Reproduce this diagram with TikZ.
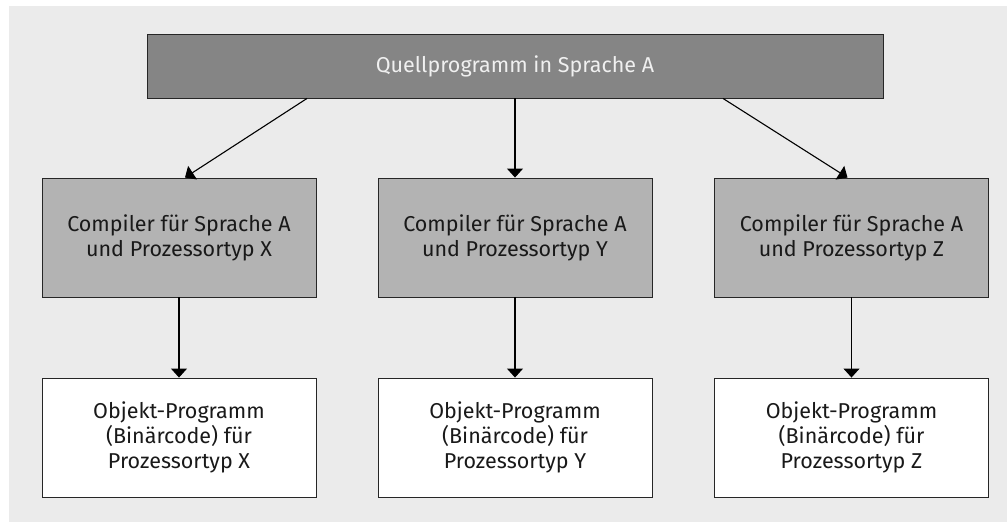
\documentclass[tikz,border=0pt]{standalone}
\usepackage{fontspec}
\setmainfont{Fira Sans}
\usetikzlibrary{arrows.meta,calc}
\definecolor{panel}{HTML}{EBEBEB}
\definecolor{darkfill}{HTML}{858585}
\definecolor{midfill}{HTML}{B3B3B3}
\definecolor{edge}{HTML}{262626}
\tikzset{
  box/.style={draw=edge, line width=0.9pt, minimum width=274pt, minimum height=119pt,
    align=center, inner sep=0pt, font=\fontsize{21.5}{25}\selectfont, text=black!90},
  compbox/.style={box, fill=midfill},
  objbox/.style={box, fill=white},
  srcbox/.style={draw=edge, line width=0.9pt, fill=darkfill, minimum width=736pt,
    minimum height=64pt, inner sep=0pt, font=\fontsize{21.5}{25}\selectfont, text=white!94!black},
  link/.style={draw=black, line width=1.1pt, -{Triangle[width=16pt,length=9pt]}}
}
\begin{document}
\begin{tikzpicture}[x=1pt,y=-1pt]
  \useasboundingbox (0,0) rectangle (1007,522);
  \fill[panel] (9,6) rectangle (1007,522);

  % source program
  \node[srcbox] (src) at (515,66) {Quellprogramm in Sprache A};

  % compilers
  \node[compbox] (cx) at (179,237.5) {Compiler für Sprache A\\und Prozessortyp X};
  \node[compbox] (cy) at (515,237.5) {Compiler für Sprache A\\und Prozessortyp Y};
  \node[compbox] (cz) at (851.5,237.5) {Compiler für Sprache A\\und Prozessortyp Z};

  % object programs
  \node[objbox] (ox) at (179,437.5) {Objekt-Programm\\(Binärcode) für\\Prozessortyp X};
  \node[objbox] (oy) at (515,437.5) {Objekt-Programm\\(Binärcode) für\\Prozessortyp Y};
  \node[objbox] (oz) at (851.5,437.5) {Objekt-Programm\\(Binärcode) für\\Prozessortyp Z};

  % source to compilers
  \draw[link] ($(src.south)+(-208,0)$) -- ($(cx.north)+(6,0)$);
  \draw[link] (src.south) -- (cy.north);
  \draw[link] ($(src.south)+(208,0)$) -- ($(cz.north)+(-4,0)$);

  % compilers to object programs
  \draw[link] (cx) -- (ox);
  \draw[link] (cy) -- (oy);
  \draw[link] (cz) -- (oz);
\end{tikzpicture}
\end{document}
